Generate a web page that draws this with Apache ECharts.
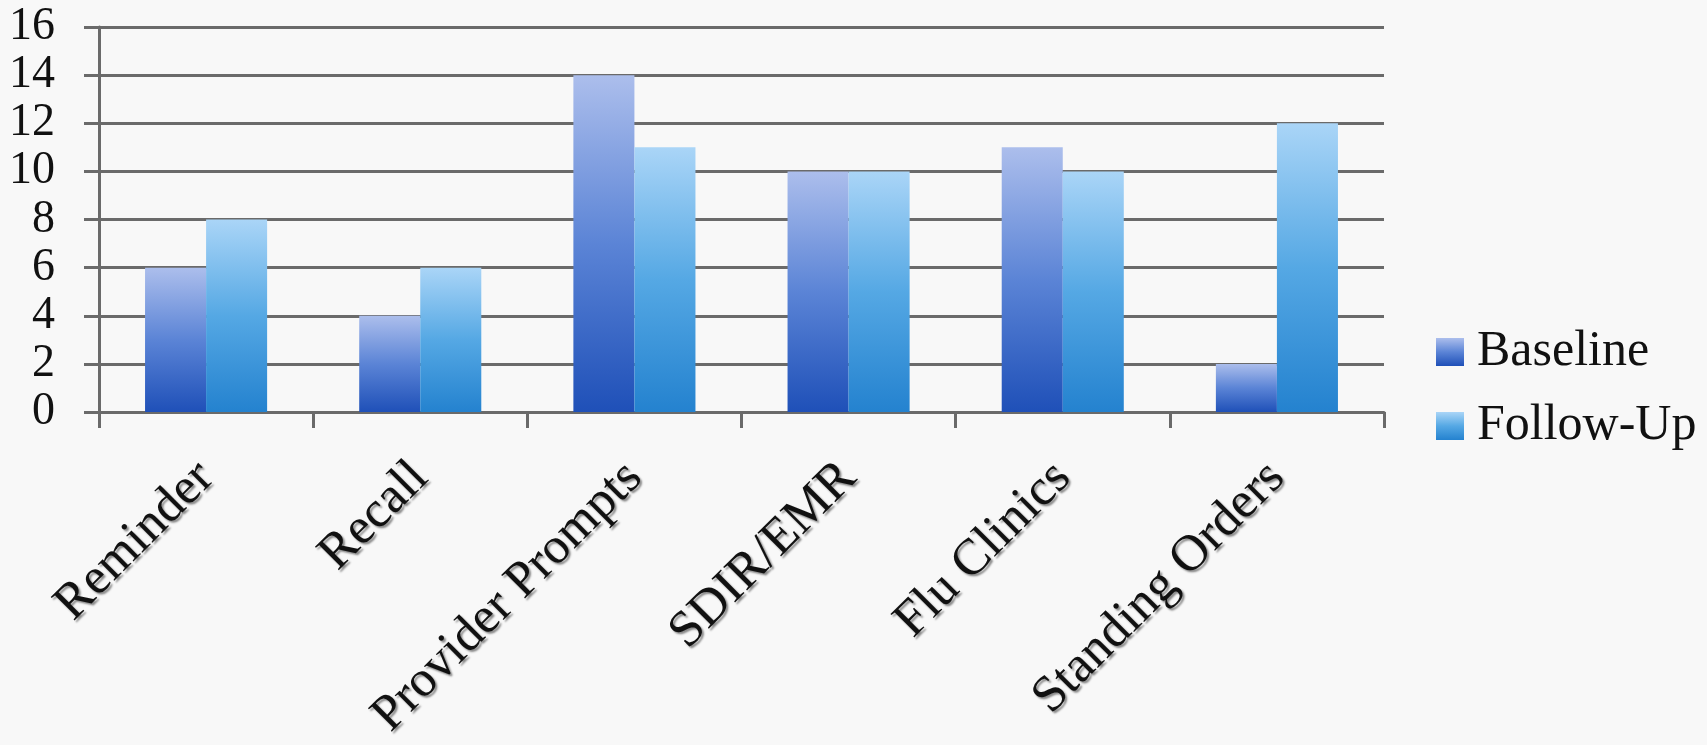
<!DOCTYPE html>
<html>
<head>
<meta charset="utf-8">
<script src="https://cdn.jsdelivr.net/npm/echarts@6/dist/echarts.min.js"></script>
<style>
html,body{margin:0;padding:0;background:#f8f8f8;}
#chart{width:1707px;height:745px;}
</style>
</head>
<body>
<div id="chart"></div>
<script>
const categories = ['Reminder', 'Recall', 'Provider Prompts', 'SDIR/EMR', 'Flu Clinics', 'Standing Orders'];
const baseline = [6, 4, 14, 10, 11, 2];
const followUp = [8, 6, 11, 10, 10, 12];
const seriesNames = ['Baseline', 'Follow-Up'];

const chart = echarts.init(document.getElementById('chart'));
const lineColor = '#6a6a6a';
const font = '"Liberation Serif", serif';

chart.setOption({
  backgroundColor: '#f8f8f8',
  animation: false,
  grid: { left: 99, right: 323, top: 27, bottom: 333, containLabel: false, outerBoundsMode: 'none' },
  legend: {
    orient: 'vertical',
    left: 1431,
    top: 322,
    itemWidth: 28,
    itemHeight: 28,
    itemGap: 24,
    icon: 'rect',
    textStyle: { fontFamily: font, fontSize: 50, color: '#111', lineHeight: 50, padding: [0, 0, 0, 8] },
    data: seriesNames
  },
  xAxis: {
    type: 'category',
    data: categories,
    axisLine: { lineStyle: { color: lineColor, width: 3 } },
    axisTick: { show: true, length: 16, lineStyle: { color: lineColor, width: 3 } },
    axisLabel: {
      rotate: 45,
      interval: 0,
      margin: 58,
      fontFamily: font,
      fontSize: 51,
      color: '#111',
      textShadowColor: 'rgba(0,0,0,0.45)',
      textShadowOffsetX: 2,
      textShadowOffsetY: 2,
      textShadowBlur: 2
    }
  },
  yAxis: {
    type: 'value',
    min: 0,
    max: 16,
    interval: 2,
    axisLine: { show: true, lineStyle: { color: lineColor, width: 3 } },
    axisTick: { show: true, length: 15, lineStyle: { color: lineColor, width: 3 } },
    splitLine: { show: true, lineStyle: { color: lineColor, width: 3 } },
    axisLabel: { margin: 44, fontFamily: font, fontSize: 46, color: '#111' }
  },
  series: [
    {
      name: seriesNames[0],
      type: 'bar',
      data: baseline,
      barGap: '0%',
      barCategoryGap: '43%',
      itemStyle: {
        color: new echarts.graphic.LinearGradient(0, 0, 0, 1, [
          { offset: 0, color: '#acbeec' },
          { offset: 0.5, color: '#5b84d6' },
          { offset: 1, color: '#1f50b8' }
        ])
      }
    },
    {
      name: seriesNames[1],
      type: 'bar',
      data: followUp,
      barGap: '0%',
      barCategoryGap: '43%',
      itemStyle: {
        color: new echarts.graphic.LinearGradient(0, 0, 0, 1, [
          { offset: 0, color: '#aad5f7' },
          { offset: 0.5, color: '#55a8e4' },
          { offset: 1, color: '#2482cf' }
        ])
      }
    }
  ]
});
</script>
</body>
</html>
